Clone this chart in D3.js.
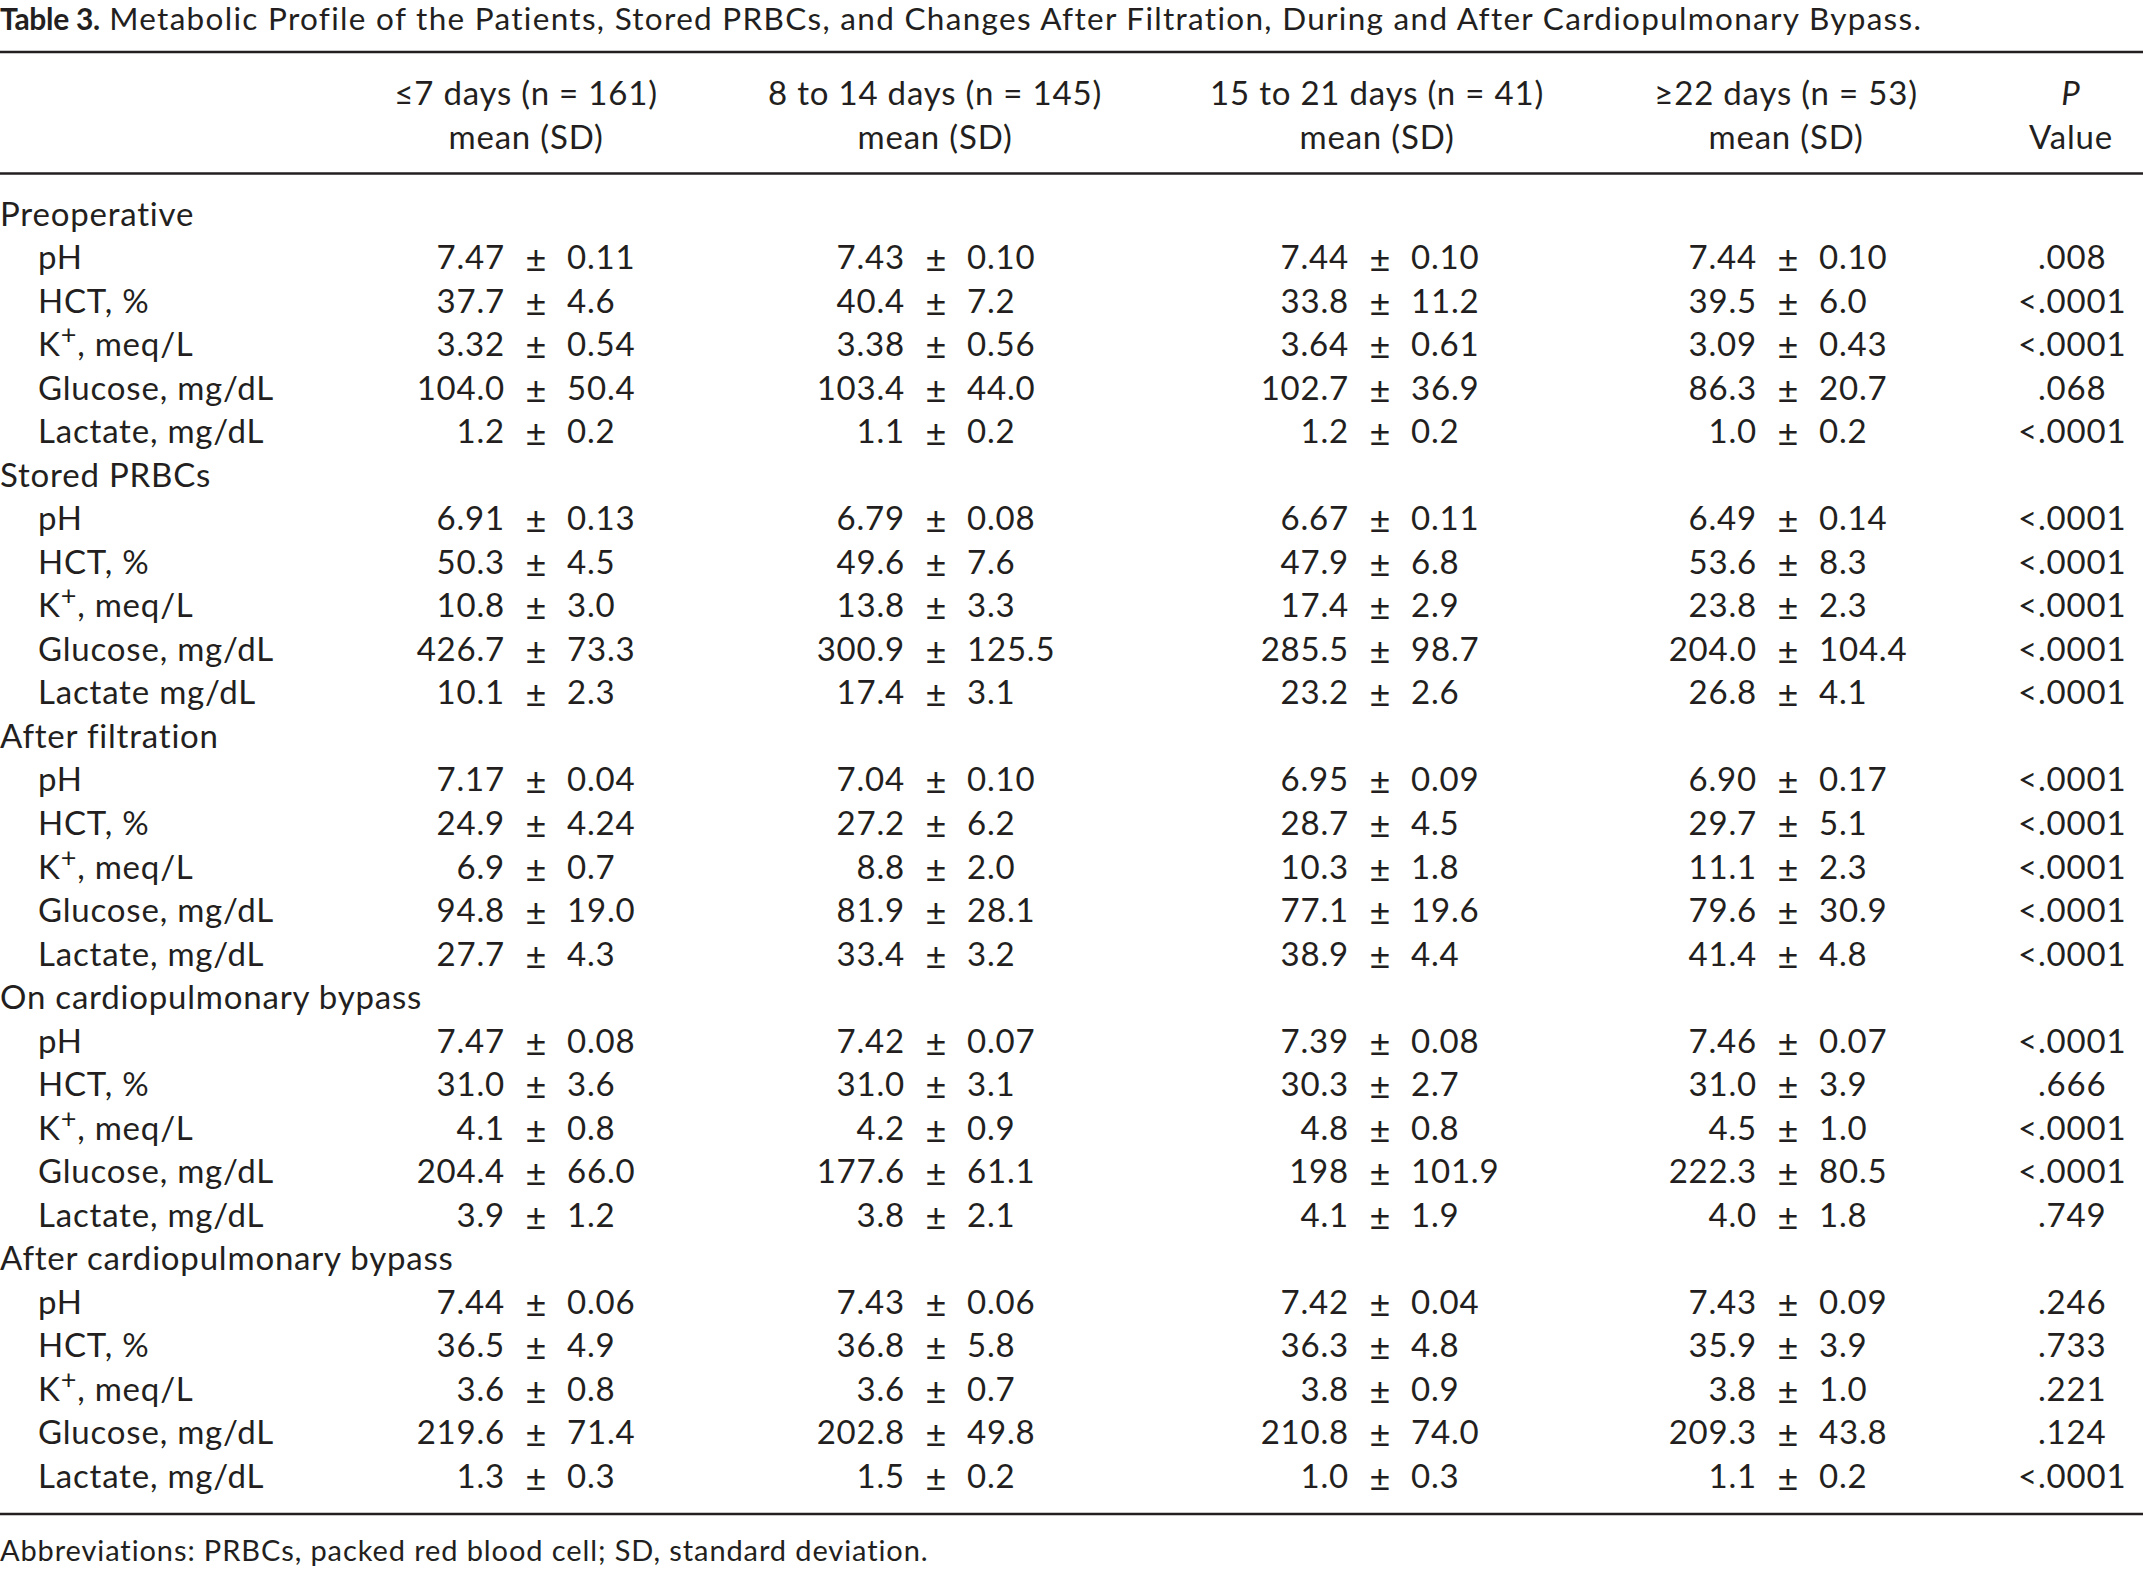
<!DOCTYPE html>
<html>
<head>
<meta charset="utf-8">
<script src="https://cdn.jsdelivr.net/npm/d3@7"></script>
<style>
  html, body { margin: 0; padding: 0; background: #fff; }
  text { font-family: Lato, "Open Sans", sans-serif; fill: #231f20; }
</style>
</head>
<body>
<svg id="chart"></svg>
<script>
// table content
var title = "Metabolic Profile of the Patients, Stored PRBCs, and Changes After Filtration, During and After Cardiopulmonary Bypass.";
var footnote = "Abbreviations: PRBCs, packed red blood cell; SD, standard deviation.";
var groups = ["\u22647 days (n = 161)", "8 to 14 days (n = 145)", "15 to 21 days (n = 41)", "\u226522 days (n = 53)"];
var sections = ["Preoperative", "Stored PRBCs", "After filtration", "On cardiopulmonary bypass", "After cardiopulmonary bypass"];
var measures = [
  ["pH", "HCT, %", "K+, meq/L", "Glucose, mg/dL", "Lactate, mg/dL"],
  ["pH", "HCT, %", "K+, meq/L", "Glucose, mg/dL", "Lactate mg/dL"],
  ["pH", "HCT, %", "K+, meq/L", "Glucose, mg/dL", "Lactate, mg/dL"],
  ["pH", "HCT, %", "K+, meq/L", "Glucose, mg/dL", "Lactate, mg/dL"],
  ["pH", "HCT, %", "K+, meq/L", "Glucose, mg/dL", "Lactate, mg/dL"]
];

// means and SDs, 5 rows per section, sections in order
var mean7 = ["7.47","37.7","3.32","104.0","1.2", "6.91","50.3","10.8","426.7","10.1", "7.17","24.9","6.9","94.8","27.7", "7.47","31.0","4.1","204.4","3.9", "7.44","36.5","3.6","219.6","1.3"];
var sd7   = ["0.11","4.6","0.54","50.4","0.2", "0.13","4.5","3.0","73.3","2.3", "0.04","4.24","0.7","19.0","4.3", "0.08","3.6","0.8","66.0","1.2", "0.06","4.9","0.8","71.4","0.3"];
var mean14 = ["7.43","40.4","3.38","103.4","1.1", "6.79","49.6","13.8","300.9","17.4", "7.04","27.2","8.8","81.9","33.4", "7.42","31.0","4.2","177.6","3.8", "7.43","36.8","3.6","202.8","1.5"];
var sd14   = ["0.10","7.2","0.56","44.0","0.2", "0.08","7.6","3.3","125.5","3.1", "0.10","6.2","2.0","28.1","3.2", "0.07","3.1","0.9","61.1","2.1", "0.06","5.8","0.7","49.8","0.2"];
var mean21 = ["7.44","33.8","3.64","102.7","1.2", "6.67","47.9","17.4","285.5","23.2", "6.95","28.7","10.3","77.1","38.9", "7.39","30.3","4.8","198","4.1", "7.42","36.3","3.8","210.8","1.0"];
var sd21   = ["0.10","11.2","0.61","36.9","0.2", "0.11","6.8","2.9","98.7","2.6", "0.09","4.5","1.8","19.6","4.4", "0.08","2.7","0.8","101.9","1.9", "0.04","4.8","0.9","74.0","0.3"];
var mean22 = ["7.44","39.5","3.09","86.3","1.0", "6.49","53.6","23.8","204.0","26.8", "6.90","29.7","11.1","79.6","41.4", "7.46","31.0","4.5","222.3","4.0", "7.43","35.9","3.8","209.3","1.1"];
var sd22   = ["0.10","6.0","0.43","20.7","0.2", "0.14","8.3","2.3","104.4","4.1", "0.17","5.1","2.3","30.9","4.8", "0.07","3.9","1.0","80.5","1.8", "0.09","3.9","1.0","43.8","0.2"];
var pValues = [".008","<.0001","<.0001",".068","<.0001", "<.0001","<.0001","<.0001","<.0001","<.0001", "<.0001","<.0001","<.0001","<.0001","<.0001", "<.0001",".666","<.0001","<.0001",".749", ".246",".733",".221",".124","<.0001"];

var means = [mean7, mean14, mean21, mean22];
var sds = [sd7, sd14, sd21, sd22];

var width = 2143, height = 1572;
var fontSize = 33, spacing = 0.8;

var svg = d3.select("#chart").attr("width", width).attr("height", height);

// rows: section header line followed by its measures
var rows = [];
var k = 0;
sections.forEach(function(s, i){
    rows.push({ label: s, head: true });
    measures[i].forEach(function(m){
        rows.push({ label: m, head: false, idx: k });
        k++;
    });
});

var y = d3.scaleLinear().domain([0, rows.length - 1]).range([225.5, 1488]);
var colX = d3.scaleOrdinal().domain(d3.range(groups.length)).range([536, 936, 1380, 1788]);
var headX = d3.scaleOrdinal().domain(d3.range(groups.length)).range([526, 935, 1377, 1786]);
var pX = 2038;   // decimal point of P values
var pHeadX = 2071;
var gap = 31;

var body = function(sel){
    return sel.style("font-size", fontSize + "px").style("letter-spacing", spacing + "px");
};

var rule = function(yy){
    svg.append("line")
        .attr("x1", 0).attr("x2", width)
        .attr("y1", yy).attr("y2", yy)
        .attr("stroke", "#231f20").attr("stroke-width", 2.7);
};

// title
var t = svg.append("text").attr("x", 0).attr("y", 30);
t.append("tspan").style("font-weight", "bold").style("font-size", "30px").style("letter-spacing", "-0.3px").text("Table 3.");
t.append("tspan").style("font-size", "31.5px").style("letter-spacing", "1.3px").text(" " + title);

rule(52);
rule(173.5);
rule(1514);

// column headers
groups.forEach(function(g, i){
    body(svg.append("text")).attr("x", headX(i)).attr("y", 105).attr("text-anchor", "middle").text(g);
    body(svg.append("text")).attr("x", headX(i)).attr("y", 149).attr("text-anchor", "middle").text("mean (SD)");
});
body(svg.append("text")).attr("x", pHeadX).attr("y", 105).attr("text-anchor", "middle")
    .style("font-style", "italic").text("P");
body(svg.append("text")).attr("x", pHeadX).attr("y", 149).attr("text-anchor", "middle").text("Value");

// row labels
var lab = body(svg.append("g").selectAll("text").data(rows).enter().append("text"))
    .attr("x", function(d){ return d.head ? 0 : 38; })
    .attr("y", function(d, i){ return y(i); });
lab.each(function(d){
    var el = d3.select(this);
    if (d.label.indexOf("K+") === 0) {
        el.append("tspan").text("K");
        el.append("tspan").attr("dy", -12).style("font-size", "27px").text("+");
        el.append("tspan").attr("dy", 12).text(d.label.slice(2));
    } else {
        el.text(d.label);
    }
});

// value cells
var dataRows = rows.map(function(d, i){ return { r: d, i: i }; }).filter(function(d){ return !d.r.head; });
groups.forEach(function(g, c){
    var cell = body(svg.append("g").selectAll("g").data(dataRows).enter().append("g"))
        .attr("transform", function(d){ return "translate(" + colX(c) + "," + y(d.i) + ")"; });
    cell.append("text").attr("x", -gap).attr("text-anchor", "end").text(function(d){ return means[c][d.r.idx]; });
    cell.append("text").attr("x", 0).attr("y", 3).attr("text-anchor", "middle")
        .style("font-size", "36px").style("letter-spacing", "0px").text("\u00b1");
    cell.append("text").attr("x", gap).text(function(d){ return sds[c][d.r.idx]; });
});

// P values aligned on the decimal point
var pg = body(svg.append("g").selectAll("g").data(dataRows).enter().append("g"))
    .attr("transform", function(d){ return "translate(" + pX + "," + y(d.i) + ")"; });
pg.append("text").attr("text-anchor", "end").text(function(d){
    var p = pValues[d.r.idx]; return p.slice(0, p.indexOf("."));
});
pg.append("text").text(function(d){
    var p = pValues[d.r.idx]; return p.slice(p.indexOf("."));
});

// footnote
svg.append("text").attr("x", 0).attr("y", 1561)
    .style("font-size", "29px").style("letter-spacing", "0.9px").text(footnote);
</script>
</body>
</html>
